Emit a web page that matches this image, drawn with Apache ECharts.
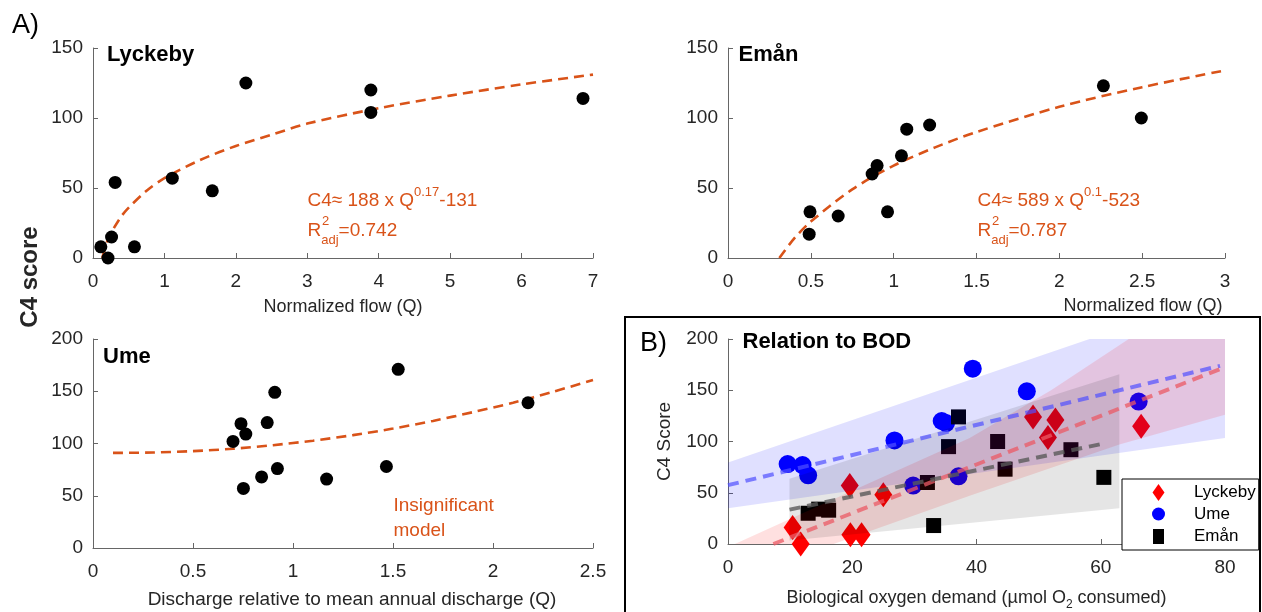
<!DOCTYPE html>
<html>
<head>
<meta charset="utf-8">
<script src="https://cdn.jsdelivr.net/npm/echarts@6/dist/echarts.min.js"></script>
<style>
  html, body { margin: 0; padding: 0; background: #fff; }
  #chart { width: 1262px; height: 612px; }
</style>
</head>
<body>
<div id="chart"></div>
<script>
// ---------- data ----------
// A) Lyckeby: C4 score vs normalized flow
var lyckQ  = [0.11, 0.21, 0.26, 0.31, 0.58, 1.11, 1.67, 2.14, 3.89, 3.89, 6.86];
var lyckC4 = [8, 0, 15, 54, 8, 57, 48, 125, 120, 104, 114];
var lyckFitQ  = [0.13, 0.2, 0.3, 0.4, 0.5, 0.75, 1, 1.5, 2, 2.5, 3, 4, 5, 6, 7];
var lyckFitC4 = [0, 12, 22, 30, 36, 48, 57, 70, 80, 88, 96, 107, 116, 124, 131];

// A) Emån
var emanQ  = [0.495, 0.49, 0.665, 0.87, 0.90, 0.963, 1.047, 1.079, 1.217, 2.266, 2.495];
var emanC4 = [33, 17, 30, 60, 66, 33, 73, 92, 95, 123, 100];
var emanFitQ  = [0.31, 0.4, 0.5, 0.75, 1, 1.25, 1.5, 2, 2.5, 3];
var emanFitC4 = [0, 14, 26, 49, 66, 79, 90, 108, 122, 134];

// A) Ume
var umeQ  = [0.70, 0.74, 0.764, 0.752, 0.843, 0.871, 0.909, 0.922, 1.168, 1.467, 1.526, 2.175];
var umeC4 = [102, 119, 109, 57, 68, 120, 149, 76, 66, 78, 171, 139];
var umeFitQ  = [0.1, 0.3, 0.5, 0.7, 0.9, 1.1, 1.3, 1.5, 1.7, 1.9, 2.1, 2.3, 2.5];
var umeFitC4 = [91, 91.4, 92.7, 95, 98.4, 102.7, 108, 114.3, 121.6, 130, 139, 149.5, 160.8];

// B) relation to BOD
var bodLyck   = [10.4, 11.7, 19.6, 19.7, 21.5, 25.0, 49.1, 51.5, 52.7, 66.5];
var bodLyckC4 = [16, 0, 57, 9, 9, 48, 124, 104, 121, 115];
var bodUme    = [9.6, 12.0, 12.9, 26.8, 29.8, 34.4, 35.1, 37.1, 39.4, 48.1, 66.1];
var bodUmeC4  = [78, 77, 67, 101, 57, 120, 118, 66, 171, 149, 139];
var bodEman   = [12.9, 14.6, 16.2, 32.1, 33.1, 35.5, 37.1, 43.4, 44.6, 55.2, 60.5];
var bodEmanC4 = [30, 34, 33, 60, 18, 95, 124, 100, 73, 92, 65];

// fitted lines (end points)
var lineUmeX  = [0, 79.2],  lineUmeY  = [57.4, 173.8];
var lineLyckX = [7.3, 79.2], lineLyckY = [0, 170.6];
var lineEmanX = [9.9, 60.6], lineEmanY = [33.5, 98.2];

// confidence bands (outline, upper edge then lower edge back)
var bandUmeX  = [0, 58.2, 80, 80, 0];
var bandUmeY  = [79.6, 200, 200, 103.5, 35];
var bandLyckX = [1.1, 20, 38.9, 52, 64.5, 80, 80, 63, 38.9, 17];
var bandLyckY = [0, 52, 103.5, 150, 200, 200, 126, 97, 47, 0];
var bandEmanX = [9.9, 63, 63, 38.9, 9.9];
var bandEmanY = [63.6, 165.6, 35, 20.6, 3.4];

var legendNames = ['Lyckeby', 'Ume', 'Emån'];

// ---------- chart ----------
var FONT = 'Liberation Sans, Arial, sans-serif';
var ORANGE = '#D95319';
var chart = echarts.init(document.getElementById('chart'));

function pairs(xs, ys) {
    return xs.map(function (x, i) { return [x, ys[i]]; });
}

function axisCommon(idx, min, max, interval, isX) {
    return {
        type: 'value',
        gridIndex: idx,
        min: min,
        max: max,
        interval: interval,
        axisLine: { show: true, lineStyle: { color: '#666', width: 1 } },
        axisTick: { show: true, inside: true, length: 5, lineStyle: { color: '#666' } },
        splitLine: { show: false },
        axisLabel: {
            color: '#262626',
            fontSize: 19,
            fontFamily: FONT,
            margin: isX ? 14 : 10
        }
    };
}

function bandSeries(name, xs, ys, color) {
    return {
        name: name,
        type: 'custom',
        xAxisIndex: 3,
        yAxisIndex: 3,
        z: 3,
        clip: true,
        silent: true,
        data: [[0, 0]],
        renderItem: function (params, api) {
            var pts = xs.map(function (x, i) { return api.coord([x, ys[i]]); });
            return { type: 'polygon', shape: { points: pts }, style: { fill: color } };
        }
    };
}

function fitSeries(name, idx, xs, ys) {
    return {
        name: name,
        type: 'line',
        xAxisIndex: idx,
        yAxisIndex: idx,
        data: pairs(xs, ys),
        smooth: 0.3,
        showSymbol: false,
        z: 2,
        lineStyle: { color: ORANGE, width: 2.6, type: [10, 6] }
    };
}

function dotSeries(name, idx, xs, ys) {
    return {
        name: name,
        type: 'scatter',
        xAxisIndex: idx,
        yAxisIndex: idx,
        data: pairs(xs, ys),
        symbol: 'circle',
        symbolSize: 13,
        z: 3,
        itemStyle: { color: '#000', opacity: 1 }
    };
}

function trendSeries(name, xs, ys, color) {
    return {
        name: name,
        type: 'line',
        xAxisIndex: 3,
        yAxisIndex: 3,
        data: pairs(xs, ys),
        showSymbol: false,
        z: 4,
        lineStyle: { color: color, width: 4, type: [11, 7] }
    };
}

var xAxes = [
    axisCommon(0, 0, 7, 1, true),
    axisCommon(1, 0, 3, 0.5, true),
    axisCommon(2, 0, 2.5, 0.5, true),
    axisCommon(3, 0, 80, 20, true)
];
xAxes[0].name = 'Normalized flow (Q)';
xAxes[0].nameLocation = 'middle';
xAxes[0].nameGap = 40;
xAxes[0].nameTextStyle = { fontSize: 18, color: '#262626', fontFamily: FONT };
xAxes[3].name = 'Biological oxygen demand (µmol O{sub|2} consumed)';
xAxes[3].nameLocation = 'middle';
xAxes[3].nameGap = 41;
xAxes[3].nameTextStyle = {
    fontSize: 18, color: '#262626', fontFamily: FONT,
    rich: { sub: { fontSize: 12, verticalAlign: 'bottom', lineHeight: 26, color: '#262626', fontFamily: FONT } }
};

var yAxes = [
    axisCommon(0, 0, 150, 50, false),
    axisCommon(1, 0, 150, 50, false),
    axisCommon(2, 0, 200, 50, false),
    axisCommon(3, 0, 200, 50, false)
];
yAxes[3].name = 'C4 Score';
yAxes[3].nameLocation = 'middle';
yAxes[3].nameGap = 54;
yAxes[3].nameTextStyle = { fontSize: 19, color: '#262626', fontFamily: FONT };

var option = {
    backgroundColor: '#fff',
    animation: false,
    grid: [
        { left: 93, top: 48, width: 500, height: 210 },
        { left: 728, top: 48, width: 497, height: 210 },
        { left: 93, top: 339, width: 500, height: 209 },
        { left: 728, top: 339, width: 497, height: 209 }
    ],
    xAxis: xAxes,
    yAxis: yAxes,
    legend: {
        data: [
            { name: legendNames[0], icon: 'path://M6,0L12,8.5L6,17L0,8.5Z' },
            { name: legendNames[1], icon: 'circle' },
            { name: legendNames[2], icon: 'rect', itemStyle: { borderColor: '#fff', borderWidth: 2 } }
        ],
        orient: 'vertical',
        left: 1122,
        top: 479,
        itemWidth: 13,
        itemHeight: 17,
        itemGap: 4.5,
        padding: [5, 3, 4, 29],
        borderColor: '#000',
        borderWidth: 1,
        borderRadius: 0,
        backgroundColor: '#fff',
        selectedMode: false,
        z: 10,
        formatter: function (n) { return '{sp|}' + n; },
        textStyle: {
            fontSize: 17, color: '#000', fontFamily: FONT,
            rich: { sp: { width: 24 } }
        }
    },
    graphic: [
        { type: 'text', left: 12, top: 12, style: { text: 'A)', fontSize: 27, fontFamily: FONT, fill: '#000' } },
        { type: 'text', x: 640, y: 344, style: { text: 'B)', fontSize: 27, fontFamily: FONT, fill: '#000', verticalAlign: 'middle' } },
        { type: 'text', x: 107, y: 55, style: { text: 'Lyckeby', fontSize: 22, fontWeight: 'bold', fontFamily: FONT, fill: '#000', verticalAlign: 'middle' } },
        { type: 'text', x: 738.5, y: 55, style: { text: 'Emån', fontSize: 22, fontWeight: 'bold', fontFamily: FONT, fill: '#000', verticalAlign: 'middle' } },
        { type: 'text', x: 103, y: 356.5, style: { text: 'Ume', fontSize: 22, fontWeight: 'bold', fontFamily: FONT, fill: '#000', verticalAlign: 'middle' } },
        { type: 'text', x: 742.5, y: 342, style: { text: 'Relation to BOD', fontSize: 22, fontWeight: 'bold', fontFamily: FONT, fill: '#000', verticalAlign: 'middle' } },
        { type: 'text', x: 30, y: 277, rotation: Math.PI / 2,
          style: { text: 'C4 score', fontSize: 24, fontWeight: 'bold', fontFamily: FONT, fill: '#262626', align: 'center', verticalAlign: 'middle' } },
        { type: 'text', x: 1143, y: 306, style: { text: 'Normalized flow (Q)', fontSize: 18, fontFamily: FONT, fill: '#262626', align: 'center', verticalAlign: 'middle' } },
        { type: 'text', x: 352, y: 600, style: { text: 'Discharge relative to mean annual discharge (Q)', fontSize: 19, fontFamily: FONT, fill: '#262626', align: 'center', verticalAlign: 'middle' } },
        // fit annotations
        { type: 'text', x: 307.5, y: 200.5, style: {
            text: '{m|C4≈ 188 x Q}{s|0.17}{m|-131}', verticalAlign: 'middle', fill: ORANGE,
            rich: {
                m: { fontSize: 19, lineHeight: 30, fontFamily: FONT, fill: ORANGE },
                s: { fontSize: 13, lineHeight: 30, verticalAlign: 'top', fontFamily: FONT, fill: ORANGE }
            } } },
        { type: 'text', x: 307.5, y: 231, style: {
            text: '{m|R}{s|adj}{m|=0.742}', verticalAlign: 'middle', fill: ORANGE,
            rich: {
                m: { fontSize: 19, lineHeight: 32, fontFamily: FONT, fill: ORANGE },
                s: { fontSize: 13, lineHeight: 32, verticalAlign: 'bottom', fontFamily: FONT, fill: ORANGE }
            } } },
        { type: 'text', x: 322, y: 221.5, style: { text: '2', fontSize: 13, fontFamily: FONT, fill: ORANGE, verticalAlign: 'middle' } },
        { type: 'text', x: 977.5, y: 200.5, style: {
            text: '{m|C4≈ 589 x Q}{s|0.1}{m|-523}', verticalAlign: 'middle', fill: ORANGE,
            rich: {
                m: { fontSize: 19, lineHeight: 30, fontFamily: FONT, fill: ORANGE },
                s: { fontSize: 13, lineHeight: 30, verticalAlign: 'top', fontFamily: FONT, fill: ORANGE }
            } } },
        { type: 'text', x: 977.5, y: 231, style: {
            text: '{m|R}{s|adj}{m|=0.787}', verticalAlign: 'middle', fill: ORANGE,
            rich: {
                m: { fontSize: 19, lineHeight: 32, fontFamily: FONT, fill: ORANGE },
                s: { fontSize: 13, lineHeight: 32, verticalAlign: 'bottom', fontFamily: FONT, fill: ORANGE }
            } } },
        { type: 'text', x: 992, y: 221.5, style: { text: '2', fontSize: 13, fontFamily: FONT, fill: ORANGE, verticalAlign: 'middle' } },
        { type: 'text', x: 393.5, y: 505.8, style: { text: 'Insignificant', fontSize: 19, fontFamily: FONT, fill: ORANGE, verticalAlign: 'middle' } },
        { type: 'text', x: 393.5, y: 530.6, style: { text: 'model', fontSize: 19, fontFamily: FONT, fill: ORANGE, verticalAlign: 'middle' } },
        // frame around panel B
        { type: 'rect', shape: { x: 625, y: 317, width: 635, height: 320 },
          style: { fill: 'none', stroke: '#000', lineWidth: 2 }, z: 100 }
    ],
    series: [
        fitSeries('Lyckeby fit', 0, lyckFitQ, lyckFitC4),
        dotSeries('Lyckeby flow', 0, lyckQ, lyckC4),
        fitSeries('Emån fit', 1, emanFitQ, emanFitC4),
        dotSeries('Emån flow', 1, emanQ, emanC4),
        fitSeries('Ume fit', 2, umeFitQ, umeFitC4),
        dotSeries('Ume flow', 2, umeQ, umeC4),

        {
            name: 'Lyckeby', type: 'scatter', xAxisIndex: 3, yAxisIndex: 3, z: 2,
            data: pairs(bodLyck, bodLyckC4),
            symbol: 'path://M6,0L12,8.5L6,17L0,8.5Z', symbolSize: [18, 25], symbolKeepAspect: false,
            itemStyle: { color: '#ff0000', opacity: 1 }
        },
        {
            name: 'Ume', type: 'scatter', xAxisIndex: 3, yAxisIndex: 3, z: 2,
            data: pairs(bodUme, bodUmeC4),
            symbol: 'circle', symbolSize: 18,
            itemStyle: { color: '#0000ff', opacity: 1 }
        },
        {
            name: 'Emån', type: 'scatter', xAxisIndex: 3, yAxisIndex: 3, z: 2,
            data: pairs(bodEman, bodEmanC4),
            symbol: 'rect', symbolSize: 15,
            itemStyle: { color: '#000', opacity: 1 }
        },
        bandSeries('Ume band', bandUmeX, bandUmeY, 'rgba(0,0,255,0.12)'),
        bandSeries('Lyckeby band', bandLyckX, bandLyckY, 'rgba(255,0,0,0.12)'),
        bandSeries('Emån band', bandEmanX, bandEmanY, 'rgba(0,0,0,0.1)'),
        trendSeries('Ume trend', lineUmeX, lineUmeY, 'rgba(80,80,255,0.7)'),
        trendSeries('Lyckeby trend', lineLyckX, lineLyckY, 'rgba(235,90,100,0.75)'),
        trendSeries('Emån trend', lineEmanX, lineEmanY, 'rgba(90,90,90,0.8)')
    ]
};

chart.setOption(option);

window.addEventListener('resize', function () {
    chart.resize();
});
</script>
</body>
</html>
